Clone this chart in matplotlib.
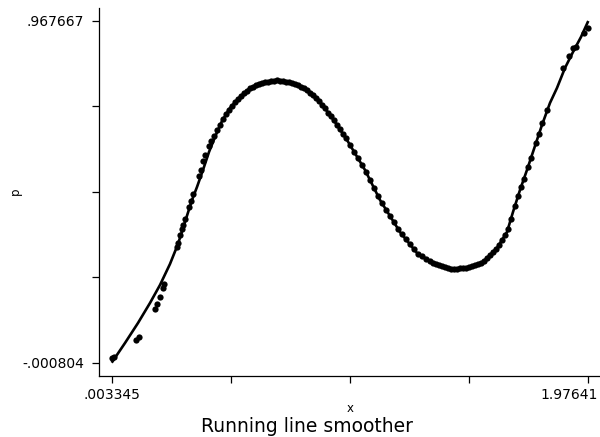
import numpy as np
import matplotlib
matplotlib.use('Agg')
import matplotlib.pyplot as plt
from matplotlib.transforms import ScaledTranslation

# observed points (x, p)
xPoints = [
    0.0046, 0.0129, 0.1039, 0.1163, 0.1826, 0.1909, 0.2033, 0.2157, 0.2199,
    0.2737, 0.2778, 0.2861, 0.2944, 0.2985, 0.3068, 0.3234, 0.3316, 0.3399,
    0.3648, 0.3730, 0.3813, 0.3896, 0.4062, 0.4144, 0.4268, 0.4393, 0.4517,
    0.4641, 0.4765, 0.4890, 0.5014, 0.5138, 0.5262, 0.5386, 0.5511, 0.5635,
    0.5759, 0.5883, 0.6007, 0.6132, 0.6256, 0.6380, 0.6504, 0.6628, 0.6753,
    0.6877, 0.7001, 0.7125, 0.7249, 0.7373, 0.7498, 0.7622, 0.7746, 0.7870,
    0.7994, 0.8119, 0.8243, 0.8367, 0.8491, 0.8615, 0.8740, 0.8864, 0.8988,
    0.9112, 0.9236, 0.9361, 0.9485, 0.9609, 0.9733,
    0.9899, 1.0064, 1.0230, 1.0396, 1.0561, 1.0727, 1.0892, 1.1058, 1.1224,
    1.1389, 1.1555, 1.1720, 1.1886, 1.2052, 1.2217, 1.2383, 1.2548, 1.2714,
    1.2880, 1.3045, 1.3211,
    1.3335, 1.3459, 1.3584, 1.3708, 1.3832, 1.3956, 1.4080, 1.4204, 1.4329,
    1.4453, 1.4577, 1.4701, 1.4825, 1.4950, 1.5074, 1.5198, 1.5322, 1.5446,
    1.5571, 1.5695, 1.5819, 1.5943, 1.6067, 1.6192, 1.6316,
    1.6440, 1.6564, 1.6730, 1.6854, 1.6978, 1.7102, 1.7268, 1.7392, 1.7600,
    1.7724, 1.7848, 1.8055, 1.8717, 1.8966, 1.9131, 1.9256, 1.9587, 1.9752,
]
pPoints = [
    0.0125, 0.0154, 0.0635, 0.0720, 0.1514, 0.1656, 0.1854, 0.2109, 0.2223,
    0.3271, 0.3385, 0.3611, 0.3782, 0.3895, 0.4065, 0.4405, 0.4575, 0.4774,
    0.5284, 0.5454, 0.5709, 0.5879, 0.6134, 0.6276, 0.6417, 0.6587, 0.6729,
    0.6888, 0.7027, 0.7166, 0.7273, 0.7367, 0.7460, 0.7548, 0.7625, 0.7701,
    0.7778, 0.7820, 0.7863, 0.7905, 0.7931, 0.7945, 0.7959, 0.7973, 0.7990,
    0.8005, 0.7988, 0.7973, 0.7956, 0.7939, 0.7925, 0.7891, 0.7849, 0.7806,
    0.7764, 0.7721, 0.7642, 0.7565, 0.7486, 0.7407, 0.7307, 0.7197, 0.7083,
    0.6973, 0.6857, 0.6729, 0.6602, 0.6474, 0.6347,
    0.6162, 0.5972, 0.5785, 0.5596, 0.5397, 0.5170, 0.4944, 0.4717, 0.4513,
    0.4331, 0.4150, 0.3969, 0.3787, 0.3626, 0.3487, 0.3345, 0.3206, 0.3084,
    0.3013, 0.2943, 0.2872,
    0.2818, 0.2792, 0.2764, 0.2738, 0.2710, 0.2685, 0.2656, 0.2651, 0.2656,
    0.2662, 0.2668, 0.2673, 0.2696, 0.2730, 0.2761, 0.2792, 0.2824, 0.2875,
    0.2960, 0.3045, 0.3130, 0.3215, 0.3334, 0.3470, 0.3606,
    0.3790, 0.4073, 0.4442, 0.4708, 0.4969, 0.5210, 0.5539, 0.5794, 0.6219,
    0.6474, 0.6786, 0.7154, 0.8345, 0.8685, 0.8912, 0.8940, 0.9337, 0.9478,
]

# running line smoother fit
xSmooth = [
    0.003345, 0.0584, 0.1122, 0.1619, 0.2033, 0.2447, 0.2778, 0.3068, 0.3358,
    0.3565, 0.3813, 0.4062, 0.4310, 0.4600, 0.4931, 0.5345, 0.5759, 0.6173,
    0.6877, 0.7539, 0.8119, 0.8657, 0.9195, 0.9775, 1.0520, 1.1141, 1.1969,
    1.2673, 1.3335, 1.4122, 1.4742, 1.5405, 1.5985, 1.6399, 1.6647, 1.6937,
    1.7226, 1.7475, 1.7847, 1.8178, 1.8468, 1.8799, 1.9131, 1.9462, 1.97641,
]
pSmooth = [
    -0.000804, 0.0550, 0.1117, 0.1684, 0.2194, 0.2790, 0.3356, 0.3980, 0.4603,
    0.4972, 0.5454, 0.5964, 0.6389, 0.6843, 0.7211, 0.7523, 0.7778, 0.7920,
    0.8005, 0.7920, 0.7721, 0.7381, 0.6899, 0.6304, 0.5454, 0.4603, 0.3696,
    0.3101, 0.2818, 0.2648, 0.2676, 0.2846, 0.3243, 0.3696, 0.4263, 0.4887,
    0.5454, 0.5964, 0.6729, 0.7353, 0.7778, 0.8345, 0.8798, 0.9223, 0.967667,
]

xTicks = [0.003345, 0.496611, 0.989877, 1.483144, 1.97641]
xTickLabels = ['.003345', '', '', '', '1.97641']
yTicks = [-0.000804, 0.241314, 0.483432, 0.725549, 0.967667]
yTickLabels = ['-.000804', '', '', '', '.967667']

fig = plt.figure(figsize = (6, 4.37), dpi = 100)
ax = fig.add_axes([0.165, 0.1396, 0.835, 0.8421])

ax.plot(xPoints, pPoints, 'o', color = 'black', markersize = 4.5, markeredgewidth = 0)
ax.plot(xSmooth, pSmooth, color = 'black', linewidth = 1.9, solid_capstyle = 'butt')

ax.set_xlim(-0.0492, 2.0249)
ax.set_ylim(-0.0385, 1.0045)

for side in ['top', 'right']:
    ax.spines[side].set_visible(False)
for side in ['left', 'bottom']:
    ax.spines[side].set_linewidth(0.9)

ax.set_xticks(xTicks)
ax.set_xticklabels(xTickLabels)
ax.set_yticks(yTicks)
ax.set_yticklabels(yTickLabels)
ax.tick_params(axis = 'x', direction = 'out', length = 5.2, width = 0.9, pad = 3.5, labelsize = 10)
ax.tick_params(axis = 'y', direction = 'out', length = 5.2, width = 0.9, pad = 5.5, labelsize = 10)

### last x label is pushed left so it stays inside the figure
lastLabel = ax.get_xticklabels()[-1]
lastLabel.set_horizontalalignment('right')
lastLabel.set_transform(lastLabel.get_transform() + ScaledTranslation(0.1, 0, fig.dpi_scale_trans))

fig.text(0.5833, 0.066, 'x', ha = 'center', va = 'center', fontsize = 8.5)
fig.text(0.025, 0.563, 'p', ha = 'center', va = 'center', rotation = 90, fontsize = 8.5)
fig.text(0.512, 0.025, 'Running line smoother', ha = 'center', va = 'center', fontsize = 13.5)

fig.savefig('out.png', dpi = 100)
